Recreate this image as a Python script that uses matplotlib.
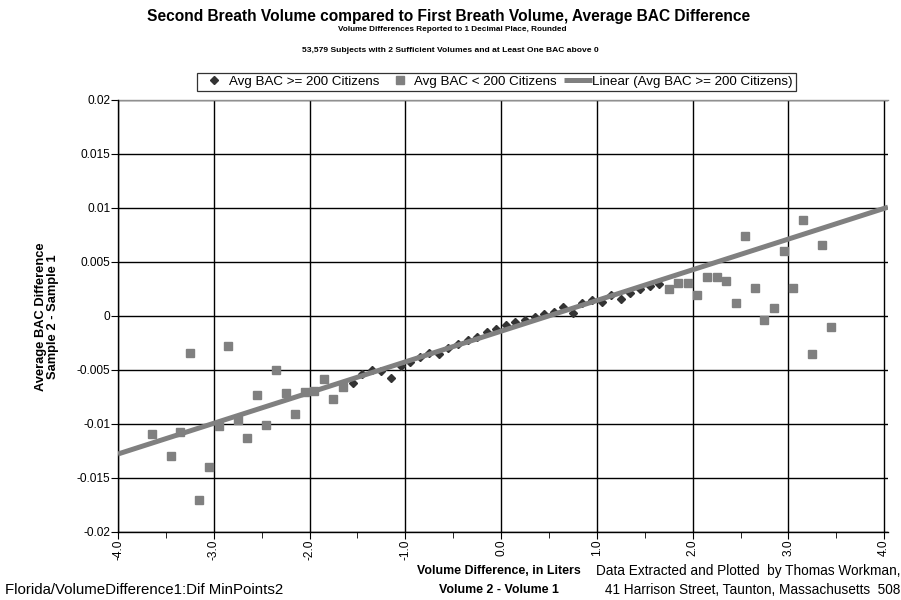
import matplotlib
matplotlib.use("Agg")
import matplotlib.pyplot as plt
import numpy as np
from matplotlib.ticker import FixedLocator, FuncFormatter, MultipleLocator

plt.rcParams["font.family"] = ["Liberation Sans", "DejaVu Sans"]
plt.rcParams["axes.unicode_minus"] = False

# Avg BAC >= 200 citizens (diamonds), volume difference in liters vs BAC diff
hi_x = [-1.55, -1.45, -1.35, -1.25, -1.15, -1.05, -0.95, -0.85, -0.75, -0.65,
        -0.55, -0.45, -0.35, -0.25, -0.15, -0.05, 0.05, 0.15, 0.25, 0.35,
        0.45, 0.55, 0.65, 0.75, 0.85, 0.95, 1.05, 1.15, 1.25, 1.35, 1.45,
        1.55, 1.65]
hi_y = [-0.0062, -0.0054, -0.0050, -0.0051, -0.0057, -0.0046, -0.0043,
        -0.0038, -0.0034, -0.0035, -0.0030, -0.0026, -0.0022, -0.0019,
        -0.0015, -0.0012, -0.0008, -0.0006, -0.0004, -0.0001, 0.0002,
        0.0004, 0.0008, 0.0003, 0.0012, 0.0015, 0.0013, 0.0019, 0.0016,
        0.0021, 0.0025, 0.0028, 0.0030]

# Avg BAC < 200 citizens (squares), both tails
lo_x = [-3.65, -3.45, -3.35, -3.25, -3.15, -3.05, -2.95, -2.85, -2.75, -2.65,
        -2.55, -2.45, -2.35, -2.25, -2.15, -2.05, -1.95, -1.85, -1.75, -1.65,
        1.75, 1.85, 1.95, 2.05, 2.15, 2.25, 2.35, 2.45, 2.55, 2.65, 2.75,
        2.85, 2.95, 3.05, 3.15, 3.25, 3.35, 3.45]
lo_y = [-0.0109, -0.0130, -0.0107, -0.0034, -0.0170, -0.0140, -0.0102,
        -0.0028, -0.0096, -0.0113, -0.0073, -0.0101, -0.0050, -0.0071,
        -0.0091, -0.0070, -0.0069, -0.0058, -0.0077, -0.0066,
        0.0025, 0.0031, 0.0031, 0.0019, 0.0036, 0.0036, 0.0032, 0.0012,
        0.0074, 0.0026, -0.0004, 0.0007, 0.0060, 0.0026, 0.0089, -0.0035,
        0.0066, -0.0010]

x_ticks = [-4.0, -3.0, -2.0, -1.0, 0.0, 1.0, 2.0, 3.0, 4.0]
y_ticks = [-0.02, -0.015, -0.01, -0.005, 0, 0.005, 0.01, 0.015, 0.02]
x_max = 4.04

fig = plt.figure(figsize=(9.01, 6.0), dpi=100)
ax = fig.add_axes([118 / 901, 1 - 532 / 600, 770 / 901, 432 / 600])

ax.plot(hi_x, hi_y, ls="none", marker="D", ms=3.6, color="#333333",
        mec="#333333", zorder=3, label="Avg BAC >= 200 Citizens")
ax.plot(lo_x, lo_y, ls="none", marker="s", ms=5.8, color="#808080",
        mec="#808080", zorder=3, label="Avg BAC < 200 Citizens")

# linear trend of the >= 200 series, extended over the whole axis
k, b = np.polyfit(hi_x, hi_y, 1)
tx = np.array([-4.0, x_max])
ax.plot(tx, k * tx + b, color="#808080", lw=3.6, solid_capstyle="butt",
        zorder=4, label="Linear (Avg BAC >= 200 Citizens)")

ax.set_xlim(-4.0, x_max)
ax.set_ylim(-0.02, 0.02)
ax.xaxis.set_major_locator(FixedLocator(x_ticks))
ax.xaxis.set_minor_locator(MultipleLocator(0.5))
ax.yaxis.set_major_locator(FixedLocator(y_ticks))
ax.xaxis.set_major_formatter(FuncFormatter(lambda v, p: f"{v:.1f}"))
ax.yaxis.set_major_formatter(FuncFormatter(lambda v, p: f"{v:g}"))
ax.tick_params(axis="x", which="major", direction="out", length=5,
               labelsize=8.6, labelrotation=90, pad=0.5)
ax.tick_params(axis="x", which="minor", direction="out", length=4)
ax.tick_params(axis="y", direction="out", length=5, labelsize=8.6, pad=0.5)
ax.grid(True, which="major", color="black", lw=1.0)
ax.set_axisbelow(True)
for s in ("top", "right"):
    ax.spines[s].set_visible(False)
for s in ("left", "bottom"):
    ax.spines[s].set_linewidth(1.0)
ax.axhline(0.02, color="#909090", lw=1.0, clip_on=False, zorder=1)

leg = fig.legend(loc="center", bbox_to_anchor=(496.5 / 901, 1 - 81.7 / 600),
                 ncol=3, fontsize=9.6, frameon=True, fancybox=False,
                 edgecolor="black", borderpad=0.2, handlelength=2.1,
                 handletextpad=0.05, columnspacing=0.5, borderaxespad=0)
leg.get_frame().set_linewidth(0.9)

fig.text(449 / 901, 1 - 17 / 600,
         "Second Breath Volume compared to First Breath Volume, Average BAC Difference",
         ha="center", va="center", fontsize=11.2, fontweight="bold")
fig.text(452 / 901, 1 - 29.5 / 600,
         "Volume Differences Reported to 1 Decimal Place, Rounded",
         ha="center", va="center", fontsize=5.9, fontweight="bold")
fig.text(450 / 901, 1 - 50 / 600,
         "53,579 Subjects with 2 Sufficient Volumes and at Least One BAC above 0",
         ha="center", va="center", fontsize=6.1, fontweight="bold")

fig.text(47 / 901, 1 - 317 / 600,
         "Average BAC Difference\nSample 2 - Sample 1", rotation=90,
         ha="center", va="center", fontsize=9.3, fontweight="bold",
         multialignment="center", linespacing=1.05)

fig.text(499 / 901, 1 - 571 / 600, "Volume Difference, in Liters",
         ha="center", va="center", fontsize=8.9, fontweight="bold")
fig.text(499 / 901, 1 - 590 / 600, "Volume 2 - Volume 1",
         ha="center", va="center", fontsize=8.9, fontweight="bold")

fig.text(5 / 901, 1 - 590 / 600, "Florida/VolumeDifference1:Dif MinPoints2",
         ha="left", va="center", fontsize=10.8)
fig.text(900 / 901, 1 - 571 / 600,
         "Data Extracted and Plotted  by Thomas Workman,",
         ha="right", va="center", fontsize=9.8)
fig.text(900 / 901, 1 - 590 / 600,
         "41 Harrison Street, Taunton, Massachusetts  508",
         ha="right", va="center", fontsize=9.8)

fig.savefig("out.png", dpi=100)
